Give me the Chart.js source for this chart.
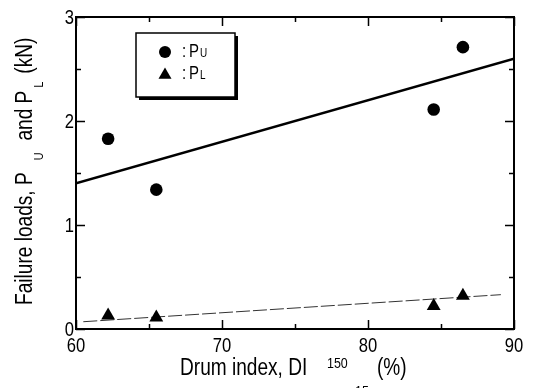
<!DOCTYPE html>
<html>
<head>
<meta charset="utf-8">
<script src="https://cdn.jsdelivr.net/npm/chart.js@4/dist/chart.umd.min.js"></script>
<style>
  html, body { margin: 0; padding: 0; background: #fff; }
</style>
</head>
<body>
<canvas id="chart" width="536" height="388"></canvas>
<script>
// measured values (drum index vs failure loads)
const drumIndex = [62.2, 65.5, 84.5, 86.5];
const upperLoad = [1.83, 1.34, 2.11, 2.71];   // P_U
const lowerLoad = [0.13, 0.11, 0.22, 0.32];   // P_L
// regression lines as drawn
const upperFitX = [60, 90];
const upperFitY = [1.40, 2.60];
const lowerFitX = [60.5, 89.1];
const lowerFitY = [0.07, 0.33];
// axis ticks
const xTicks = [60, 70, 80, 90];
const yTicks = [0, 1, 2, 3];
const xMinorStep = 5;
const yMinorStep = 0.5;

// the original lettering is a condensed sans, so squeeze a normal one
const FONT = "'Liberation Sans', Arial, sans-serif";
const SQUEEZE = 0.83;

function toPoints(xs, ys) {
  return xs.map((x, i) => ({ x: x, y: ys[i] }));
}

// draw condensed text, returns its drawn width
function text(ctx, s, x, y, size, align) {
  ctx.save();
  ctx.font = size + "px " + FONT;
  ctx.textAlign = align || "left";
  ctx.textBaseline = "alphabetic";
  ctx.translate(x, y);
  ctx.scale(SQUEEZE, 1);
  ctx.fillText(s, 0, 0);
  const w = ctx.measureText(s).width * SQUEEZE;
  ctx.restore();
  return w;
}

// frame with inward ticks on all four sides, tick labels, titles, legend
const framePlugin = {
  id: "frame",
  afterDatasetsDraw(chart) {
    const ctx = chart.ctx;
    const a = chart.chartArea;
    const xs = chart.scales.x;
    const ys = chart.scales.y;
    ctx.save();
    ctx.strokeStyle = "#000";
    ctx.lineWidth = 2;
    ctx.strokeRect(a.left, a.top, a.right - a.left, a.bottom - a.top);
    ctx.lineWidth = 1.5;
    ctx.beginPath();
    for (let v = xs.min; v <= xs.max + 1e-9; v += xMinorStep) {
      const px = Math.round(xs.getPixelForValue(v)) + 0.5;
      const len = xTicks.includes(v) ? 9 : 5;
      ctx.moveTo(px, a.bottom); ctx.lineTo(px, a.bottom - len);
      ctx.moveTo(px, a.top); ctx.lineTo(px, a.top + len);
    }
    for (let v = ys.min; v <= ys.max + 1e-9; v += yMinorStep) {
      const py = Math.round(ys.getPixelForValue(v)) + 0.5;
      const len = yTicks.includes(v) ? 9 : 5;
      ctx.moveTo(a.left, py); ctx.lineTo(a.left + len, py);
      ctx.moveTo(a.right, py); ctx.lineTo(a.right - len, py);
    }
    ctx.stroke();
    ctx.restore();
  },
  afterDraw(chart) {
    const ctx = chart.ctx;
    const a = chart.chartArea;
    const xs = chart.scales.x;
    const ys = chart.scales.y;
    ctx.save();
    ctx.fillStyle = "#000";

    // tick labels
    xTicks.forEach((v) => text(ctx, String(v), xs.getPixelForValue(v), a.bottom + 23, 20, "center"));
    yTicks.forEach((v) => text(ctx, String(v), a.left - 2, ys.getPixelForValue(v) + 7, 20, "right"));

    // legend box with shadow
    const lx = a.left + 60, ly = a.top + 16, lw = 99, lh = 64;
    ctx.fillRect(lx + 3, ly + 3, lw, lh);
    ctx.fillStyle = "#fff";
    ctx.fillRect(lx, ly, lw, lh);
    ctx.strokeStyle = "#000";
    ctx.lineWidth = 1.5;
    ctx.strokeRect(lx, ly, lw, lh);
    ctx.fillStyle = "#000";
    ctx.beginPath();
    ctx.arc(lx + 29, ly + 19, 6, 0, Math.PI * 2);
    ctx.fill();
    const tr = 7.5, tcx = lx + 29, tcy = ly + 42;
    ctx.beginPath();
    ctx.moveTo(tcx, tcy - tr);
    ctx.lineTo(tcx + tr * 0.866, tcy + tr * 0.5);
    ctx.lineTo(tcx - tr * 0.866, tcy + tr * 0.5);
    ctx.closePath();
    ctx.fill();
    text(ctx, ":", lx + 46, ly + 24, 18);
    text(ctx, "P", lx + 53, ly + 24, 18);
    text(ctx, "U", lx + 64, ly + 24, 12);
    text(ctx, ":", lx + 46, ly + 46, 18);
    text(ctx, "P", lx + 53, ly + 46, 18);
    text(ctx, "L", lx + 64, ly + 46, 12);

    // x axis title
    text(ctx, "Drum index, DI", 180, 375, 23);
    text(ctx, "150", 327, 368, 15);
    text(ctx, "15", 355, 396, 15);
    text(ctx, "(%)", 377, 375, 23);

    // y axis title (rotated)
    ctx.translate(32, 305);
    ctx.rotate(-Math.PI / 2);
    let x = 0;
    x += text(ctx, "Failure loads, P", x, 0, 23) + 12;
    x += text(ctx, "U", x, 11, 13) + 12;
    x += text(ctx, "and P", x, 0, 23) + 3;
    x += text(ctx, "L", x, 11, 13) + 8;
    text(ctx, "(kN)", x, 0, 23);
    ctx.restore();
  }
};

const ctx = document.getElementById("chart").getContext("2d");
const chart = new Chart(ctx, {
  type: "scatter",
  data: {
    datasets: [
      {
        label: "PU",
        data: toPoints(drumIndex, upperLoad),
        pointStyle: "circle",
        pointRadius: 6.3,
        backgroundColor: "#000",
        borderWidth: 0,
      },
      {
        label: "PL",
        data: toPoints(drumIndex, lowerLoad),
        pointStyle: "triangle",
        pointRadius: 8,
        backgroundColor: "#000",
        borderWidth: 0,
      },
      {
        label: "PU fit",
        data: toPoints(upperFitX, upperFitY),
        showLine: true,
        pointRadius: 0,
        borderColor: "#000",
        borderWidth: 2.5,
      },
      {
        label: "PL fit",
        data: toPoints(lowerFitX, lowerFitY),
        showLine: true,
        pointRadius: 0,
        borderColor: "#333",
        borderWidth: 1,
        borderDash: [14, 3],
      },
    ],
  },
  options: {
    responsive: false,
    animation: false,
    layout: { padding: { left: 0, top: 17, right: 22, bottom: 0 } },
    plugins: {
      legend: { display: false },
      tooltip: { enabled: false },
    },
    scales: {
      x: {
        type: "linear",
        min: 60,
        max: 90,
        grid: { display: false, drawTicks: false },
        border: { display: false },
        ticks: { display: false },
        afterBuildTicks: (s) => { s.ticks = xTicks.map((v) => ({ value: v })); },
        afterFit: (s) => { s.height = 59; },
      },
      y: {
        type: "linear",
        min: 0,
        max: 3,
        grid: { display: false, drawTicks: false },
        border: { display: false },
        ticks: { display: false },
        afterBuildTicks: (s) => { s.ticks = yTicks.map((v) => ({ value: v })); },
        afterFit: (s) => { s.width = 76; },
      },
    },
  },
  plugins: [framePlugin],
});
</script>
</body>
</html>
